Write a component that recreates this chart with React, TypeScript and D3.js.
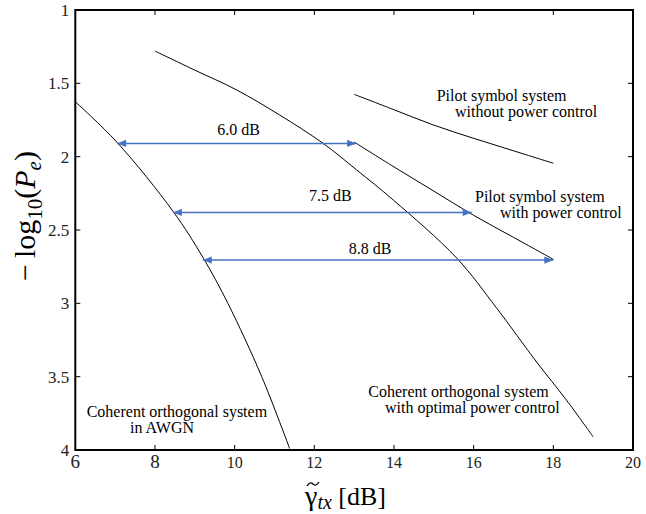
import React, { useEffect, useRef } from 'react';
import * as d3 from 'd3';

// curve data: [gamma_tx dB, -log10(Pe)]
const awgnX = [6.0, 7.04, 8.46, 9.21, 9.83, 10.68, 11.38];
const awgnY = [1.625, 1.90, 2.375, 2.69, 3.0, 3.5, 3.99];

const optimalX = [8.0, 9.0, 10.05, 11.13, 12.22, 13.06, 13.98, 15.57, 16.57, 17.58, 18.33, 19.0];
const optimalY = [1.28, 1.41, 1.545, 1.716, 1.909, 2.09, 2.295, 2.69, 3.03, 3.40, 3.66, 3.91];

const pilotNoPcX = [13, 14, 15, 16, 17, 18];
const pilotNoPcY = [1.575, 1.68, 1.785, 1.875, 1.96, 2.045];

const pilotPcX = [13, 14, 15, 16, 17, 18];
const pilotPcY = [1.90, 2.07, 2.235, 2.40, 2.55, 2.70];

// gap arrows
const gapLabels = ['6.0 dB', '7.5 dB', '8.8 dB'];
const gapFrom = [7.05, 8.45, 9.2];
const gapTo = [13.05, 15.95, 18.0];
const gapLevel = [1.91, 2.38, 2.705];

const xTicks = [6, 8, 10, 12, 14, 16, 18, 20];
const yTicks = [1, 1.5, 2, 2.5, 3, 3.5, 4];

const zip = (xs: number[], ys: number[]) => xs.map((x, i) => [x, ys[i]] as [number, number]);

const App = () => {
  const ref = useRef<SVGSVGElement>(null);

  useEffect(() => {
    const svg = d3.select(ref.current);
    svg.selectAll('*').remove();

    const width = 646;
    const height = 514;
    const margin = { top: 10, right: 13, bottom: 64, left: 75.3 };
    const serif = "'Liberation Serif', 'DejaVu Serif', serif";

    const x = d3.scaleLinear().domain([6, 20]).range([margin.left, width - margin.right]);
    const y = d3.scaleLinear().domain([1, 4]).range([margin.top, height - margin.bottom]);

    const blue = '#4472C4';
    svg.append('defs').append('marker')
      .attr('id', 'head')
      .attr('viewBox', '0 0 10 10')
      .attr('refX', 10)
      .attr('refY', 5)
      .attr('markerWidth', 10)
      .attr('markerHeight', 9)
      .attr('markerUnits', 'userSpaceOnUse')
      .attr('orient', 'auto-start-reverse')
      .append('path')
      .attr('d', 'M0,1 L10,5 L0,9 Z')
      .attr('fill', blue);

    const line = d3.line<[number, number]>()
      .x(d => x(d[0]))
      .y(d => y(d[1]))
      .curve(d3.curveCatmullRom.alpha(0.5));

    const curves = [zip(awgnX, awgnY), zip(optimalX, optimalY), zip(pilotNoPcX, pilotNoPcY), zip(pilotPcX, pilotPcY)];
    svg.append('g')
      .selectAll('path')
      .data(curves)
      .join('path')
      .attr('d', d => line(d))
      .attr('fill', 'none')
      .attr('stroke', '#000')
      .attr('stroke-width', 1);

    // gap arrows
    const arrows = svg.append('g');
    gapLabels.forEach((label, i) => {
      arrows.append('line')
        .attr('x1', x(gapFrom[i]))
        .attr('x2', x(gapTo[i]))
        .attr('y1', y(gapLevel[i]))
        .attr('y2', y(gapLevel[i]))
        .attr('stroke', blue)
        .attr('stroke-width', 1.5)
        .attr('marker-start', 'url(#head)')
        .attr('marker-end', 'url(#head)');
      arrows.append('text')
        .attr('x', (x(gapFrom[i]) + x(gapTo[i])) / 2 + [2, 8, -8][i])
        .attr('y', y(gapLevel[i]) - [8, 11, 6][i])
        .attr('text-anchor', 'middle')
        .style('font-family', serif)
        .attr('font-size', 16)
        .text(label);
    });

    // annotations
    const notes = [
      { lines: ['Pilot symbol system', 'without power control'], x: [436.7, 455], y: 101 },
      { lines: ['Pilot symbol system', 'with power control'], x: [475, 500], y: 202 },
      { lines: ['Coherent orthogonal system', 'in AWGN'], x: [86.7, 130], y: 417 },
      { lines: ['Coherent orthogonal system', 'with optimal power control'], x: [368.3, 385], y: 397 },
    ];
    notes.forEach(n => {
      n.lines.forEach((t, j) => {
        svg.append('text')
          .attr('x', n.x[j])
          .attr('y', n.y + j * 16)
          .style('font-family', serif)
          .attr('font-size', 16)
          .text(t);
      });
    });

    // frame + inward ticks on all sides
    const frame = svg.append('g');
    frame.append('rect')
      .attr('x', margin.left)
      .attr('y', margin.top)
      .attr('width', width - margin.right - margin.left)
      .attr('height', height - margin.bottom - margin.top)
      .attr('fill', 'none')
      .attr('stroke', '#000')
      .attr('stroke-width', 2);

    const tickLen = 5;
    xTicks.slice(1, -1).forEach(t => {
      frame.append('line').attr('x1', x(t)).attr('x2', x(t))
        .attr('y1', y(4)).attr('y2', y(4) - tickLen).attr('stroke', '#000');
      frame.append('line').attr('x1', x(t)).attr('x2', x(t))
        .attr('y1', y(1)).attr('y2', y(1) + tickLen).attr('stroke', '#000');
    });
    yTicks.slice(1, -1).forEach(t => {
      frame.append('line').attr('x1', x(6)).attr('x2', x(6) + tickLen)
        .attr('y1', y(t)).attr('y2', y(t)).attr('stroke', '#000');
      frame.append('line').attr('x1', x(20)).attr('x2', x(20) - tickLen)
        .attr('y1', y(t)).attr('y2', y(t)).attr('stroke', '#000');
    });

    svg.append('g')
      .selectAll('text')
      .data(xTicks)
      .join('text')
      .attr('x', d => x(d))
      .attr('y', y(4) + 18)
      .attr('text-anchor', 'middle')
      .style('font-family', serif)
      .attr('font-size', d => (d < 10 ? 19 : 16))
      .attr('fill', '#222')
      .text(d => d);

    svg.append('g')
      .selectAll('text')
      .data(yTicks)
      .join('text')
      .attr('x', x(6) - 6)
      .attr('y', d => y(d))
      .attr('dy', '0.35em')
      .attr('text-anchor', 'end')
      .style('font-family', serif)
      .attr('font-size', 17)
      .attr('fill', '#222')
      .text(d => d);

    // axis titles
    svg.append('path')
      .attr('d', 'M307,486 Q310,481 313,484 T319,482')
      .attr('fill', 'none')
      .attr('stroke', '#000')
      .attr('stroke-width', 1.3);
    const xt = svg.append('text')
      .attr('x', 305)
      .attr('y', 505)
      .style('font-family', serif)
      .attr('font-size', 26);
    xt.append('tspan').attr('font-size', 28).text('\u03B3');
    xt.append('tspan').attr('font-style', 'italic').attr('font-size', 20).attr('dy', 4).text('tx');
    xt.append('tspan').attr('dy', -4).text(' [dB]');

    const yt = svg.append('text')
      .attr('transform', `translate(35,${(y(1) + y(4)) / 2 - 14}) rotate(-90)`)
      .attr('text-anchor', 'middle')
      .style('font-family', serif)
      .attr('font-size', 30);
    yt.append('tspan').text('\u2212\u2009log');
    yt.append('tspan').attr('font-size', 21).attr('dy', 7).text('10');
    yt.append('tspan').attr('dy', -7).text('(');
    yt.append('tspan').attr('font-style', 'italic').text('P');
    yt.append('tspan').attr('font-style', 'italic').attr('font-size', 21).attr('dy', 6).text('e');
    yt.append('tspan').attr('dy', -6).text(')');
  }, []);

  return (
    <svg
      ref={ref}
      width={646}
      height={514}
      style={{ position: 'absolute', left: 0, top: 0, background: '#fff' }}
    />
  );
};

export default App;
